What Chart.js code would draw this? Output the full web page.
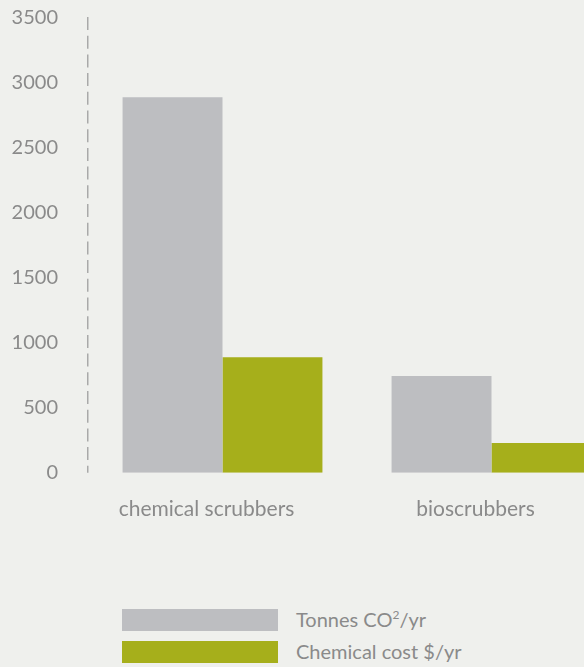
<!DOCTYPE html>
<html>
<head>
<meta charset="utf-8">
<script src="https://cdn.jsdelivr.net/npm/chart.js@4"></script>
<style>
  html, body { margin: 0; padding: 0; background: #eff0ed; overflow: hidden; }
  #wrap { position: relative; width: 584px; height: 667px; overflow: hidden; }
  #chart { position: absolute; left: 0; top: -24px; }
  .legend { position: absolute; left: 122px; font-family: Lato, sans-serif; font-size: 20px; color: #8a8a8a; }
  .legend div { position: relative; height: 32px; }
  .legend span.box { position: absolute; left: 0; top: 0; width: 156px; height: 22px; }
  .legend span.txt { position: absolute; left: 174px; top: -2px; white-space: nowrap; line-height: 24px; }
  sup { font-size: 0.6em; line-height: 0; }
</style>
</head>
<body>
<div id="wrap">
  <canvas id="chart" width="626" height="590"></canvas>
  <div class="legend" style="top:609px">
    <div><span class="box" style="background:#bdbec1"></span><span class="txt">Tonnes CO<sup>2</sup>/yr</span></div>
    <div><span class="box" style="background:#a6af1b"></span><span class="txt">Chemical cost $/yr</span></div>
  </div>
</div>
<script>
// 数据
const categories = ['chemical scrubbers', 'bioscrubbers'];
const tonnesCO2 = [2890, 745];
const chemicalCost = [890, 230];
const yTicks = [0, 500, 1000, 1500, 2000, 2500, 3000, 3500];

// y轴虚线（border.dash 只对网格线生效，所以自己画）
const dashedAxis = {
  id: 'dashedAxis',
  afterDraw(chart) {
    const { ctx, chartArea } = chart;
    const x = chartArea.left - 0.25;
    ctx.save();
    ctx.strokeStyle = '#a9a9a9';
    ctx.lineWidth = 1.5;
    ctx.setLineDash([13, 5.7]);
    ctx.beginPath();
    ctx.moveTo(x, chartArea.top - 1);
    ctx.lineTo(x, chartArea.bottom);
    ctx.stroke();
    ctx.restore();
  }
};

new Chart(document.getElementById('chart'), {
  type: 'bar',
  data: {
    labels: categories,
    datasets: [
      { label: 'Tonnes CO²/yr', data: tonnesCO2, backgroundColor: '#bdbec1' },
      { label: 'Chemical cost $/yr', data: chemicalCost, backgroundColor: '#a6af1b' }
    ]
  },
  options: {
    responsive: false,
    animation: false,
    devicePixelRatio: 1,
    layout: { padding: { top: 18, bottom: 20, left: 0, right: 0 } },
    plugins: { legend: { display: false }, tooltip: { enabled: false } },
    datasets: { bar: { barPercentage: 1, categoryPercentage: 0.743 } },
    scales: {
      x: {
        grid: { display: false, drawTicks: false },
        border: { display: false },
        ticks: { color: '#8a8a8a', font: { family: 'Lato', size: 21 }, padding: 24, labelOffset: -16, maxRotation: 0 }
      },
      y: {
        min: 0,
        max: 3500,
        afterFit: (scale) => { scale.width = 88; },
        afterBuildTicks: (scale) => { scale.ticks = yTicks.map(v => ({ value: v })); },
        grid: { display: false, drawTicks: false },
        border: { display: false },
        ticks: { color: '#8a8a8a', font: { family: 'Lato', size: 20 }, padding: 30, callback: (v) => String(v) }
      }
    }
  },
  plugins: [dashedAxis]
});
</script>
</body>
</html>
